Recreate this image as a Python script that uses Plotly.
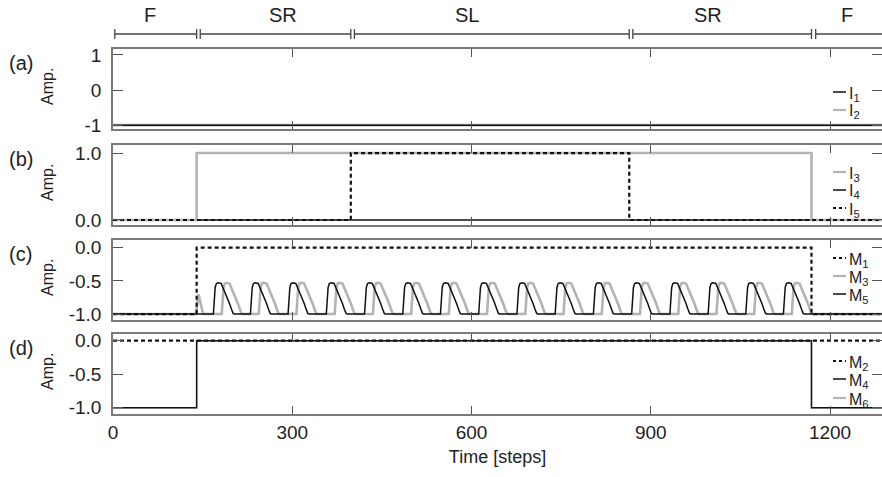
import plotly.graph_objects as go
from plotly.subplots import make_subplots

# ---------------- data ----------------
t_end = 1287
t_span = [0, t_end]

# phase bar on top
phase_labels = ["F", "SR", "SL", "SR", "F"]
phase_starts = [3, 146, 404, 870, 1176]
phase_ends = [140, 398, 864, 1169, 1320]
phase_label_t = [62, 285, 592, 996, 1228]

# (a)
I1_y = [-1, -1]
I2_y = [-1, -1]
# (b)
I3_t = [0, 140, 140, 1169, 1169, t_end]
I3_y = [0, 0, 1, 1, 0, 0]
I4_y = [0, 0]
I5_t = [0, 398, 398, 864, 864, t_end]
I5_y = [0, 0, 1, 1, 0, 0]
# (c)
M1_t = [0, 140, 140, 1169, 1169, t_end]
M1_y = [-1, -1, 0, 0, -1, -1]
M5_onsets = [168, 230, 293, 357, 421, 485, 548, 612, 676, 740, 804, 868, 932, 996, 1059, 1122]
M3_onsets = [182, 244, 307, 371, 435, 499, 562, 626, 690, 754, 818, 882, 946, 1010, 1073, 1136]
pulse_dt = [0, 1.5, 3, 5, 8, 13, 15, 18, 21, 24, 27, 30, 33, 35]
pulse_amp = [-1.0, -0.8, -0.6, -0.54, -0.53, -0.54, -0.58, -0.65, -0.70, -0.76, -0.84, -0.92, -0.99, -1.0]
M3_bump_t = [139, 143, 151]
M3_bump_y = [-1.0, -0.7, -1.0]
# (d)
M2_y = [0, 0]
M4_t = [0, 140, 140, 1169, 1169, t_end]
M4_y = [-1, -1, 0, 0, -1, -1]
M6_t = [0, 140, 140, 1169, 1169, t_end]
M6_y = [-1, -1, 0, 0, -1, -1]

x_tickvals = [0, 300, 600, 900, 1200]
x_ticktext = ["0", "300", "600", "900", "1200"]
ya_vals = [1, 0, -1]
ya_text = ["1", "0", "-1"]
yb_vals = [1, 0]
yb_text = ["1.0", "0.0"]
yc_vals = [0, -0.5, -1]
yc_text = ["0.0", "-0.5", "-1.0"]

legend_names = [["I<sub>1</sub>", "I<sub>2</sub>"],
                ["I<sub>3</sub>", "I<sub>4</sub>", "I<sub>5</sub>"],
                ["M<sub>1</sub>", "M<sub>3</sub>", "M<sub>5</sub>"],
                ["M<sub>2</sub>", "M<sub>4</sub>", "M<sub>6</sub>"]]


def pulse_train(onsets, pre_t=None, pre_y=None):
    xs, ys = [0], [-1.0]
    if pre_t:
        xs += pre_t
        ys += pre_y
    for o in onsets:
        xs += [o + d for d in pulse_dt]
        ys += pulse_amp
    xs.append(t_end)
    ys.append(-1.0)
    return xs, ys


M5_t, M5_y = pulse_train(M5_onsets)
M3_t, M3_y = pulse_train(M3_onsets, M3_bump_t, M3_bump_y)

# ---------------- styling ----------------
FONT = "Liberation Sans, Arial, Helvetica, sans-serif"
BLACK = "#111111"
GRAY = "#b3b3b3"
FRAME = "#7a7a7a"
TXT = "#222222"
DASH = "4px,3px"
STY_BLACK = dict(color=BLACK, width=1.5, dash=None)
STY_GRAY = dict(color=GRAY, width=2.6, dash=None)
STY_DASH = dict(color=BLACK, width=2.2, dash=DASH)

fig = make_subplots(rows=4, cols=1, vertical_spacing=0.02)

def add(row, x, y, name, sty):
    fig.add_trace(go.Scatter(x=x, y=y, mode="lines", name=name, line=sty,
                             showlegend=False, hoverinfo="skip"), row=row, col=1)

# (a)
add(1, t_span, I2_y, "I2", STY_GRAY)
add(1, t_span, I1_y, "I1", STY_BLACK)
# (b)
add(2, t_span, I4_y, "I4", STY_BLACK)
add(2, I3_t, I3_y, "I3", STY_GRAY)
add(2, I5_t, I5_y, "I5", STY_DASH)
# (c)
add(3, M3_t, M3_y, "M3", STY_GRAY)
add(3, M5_t, M5_y, "M5", STY_BLACK)
add(3, M1_t, M1_y, "M1", STY_DASH)
# (d)
add(4, M6_t, M6_y, "M6", dict(color=GRAY, width=1.4))
add(4, M4_t, M4_y, "M4", STY_BLACK)
add(4, t_span, M2_y, "M2", STY_DASH)

legend_styles = [[STY_BLACK, STY_GRAY],
                 [STY_GRAY, STY_BLACK, STY_DASH],
                 [STY_DASH, STY_GRAY, STY_BLACK],
                 [STY_DASH, STY_BLACK, STY_GRAY]]

W, H = 882, 477
mt, mb, ml, mr = 49, 63, 113, 0
ph = H - mt - mb
pw = W - ml - mr

def py(px):
    return (H - mb - px) / ph

def pxx(px):
    return (px - ml) / pw

panels = [(49, 129), (145, 225), (240, 320), (334, 414)]
yranges = [[-1.11, 1.17], [-0.075, 1.12], [-1.09, 0.116], [-1.094, 0.1]]
yticks = [(ya_vals, ya_text), (yb_vals, yb_text), (yc_vals, yc_text), (yc_vals, yc_text)]

for i in range(4):
    n = "" if i == 0 else str(i + 1)
    fig.layout["yaxis" + n].update(
        domain=[py(panels[i][1]), py(panels[i][0])], range=yranges[i],
        tickvals=yticks[i][0], ticktext=yticks[i][1],
        ticks="inside", ticklen=10, tickwidth=1.2, tickcolor="#555", mirror="ticks",
        showline=True, linecolor=FRAME, linewidth=1.6, showgrid=False, zeroline=False,
        tickfont=dict(family=FONT, size=19, color=TXT), ticklabelstandoff=6,
        automargin=False, fixedrange=True)
    fig.layout["xaxis" + n].update(
        range=[0, t_end], tickvals=x_tickvals, ticktext=x_ticktext,
        ticks="inside", ticklen=8, tickwidth=1.2, tickcolor="#555", mirror="ticks",
        showline=True, linecolor=FRAME, linewidth=1.6, showgrid=False, zeroline=False,
        showticklabels=(i == 3), tickfont=dict(family=FONT, size=19, color=TXT),
        matches=None if i == 0 else "x", automargin=False, fixedrange=True)

fig.layout.xaxis4.title = dict(text="Time [steps]", font=dict(family=FONT, size=18, color=TXT), standoff=9)

shapes = []
annotations = []

# phase bar
bar_y, tick_hi, tick_lo = py(34), py(29), py(39)
for s, e in zip(phase_starts, phase_ends):
    ln = dict(color="#444", width=1.3)
    shapes.append(dict(type="line", xref="x", yref="paper", x0=s, x1=e, y0=bar_y, y1=bar_y, line=ln))
    shapes.append(dict(type="line", xref="x", yref="paper", x0=s, x1=s, y0=tick_lo, y1=tick_hi, line=ln))
    shapes.append(dict(type="line", xref="x", yref="paper", x0=e, x1=e, y0=tick_lo, y1=tick_hi, line=ln))
for lab, tx in zip(phase_labels, phase_label_t):
    annotations.append(dict(text=lab, x=tx, y=py(15), xref="x", yref="paper",
                            xanchor="center", yanchor="middle",
                            showarrow=False, font=dict(family=FONT, size=20, color=TXT)))

# panel letters and "Amp." labels
panel_letters = ["(a)", "(b)", "(c)", "(d)"]
for i, lt in enumerate(panel_letters):
    top = panels[i][0]
    annotations.append(dict(text=lt, x=pxx(7), y=py(top + 14), xref="paper", yref="paper",
                            xanchor="left", yanchor="middle", showarrow=False,
                            font=dict(family=FONT, size=20, color=TXT)))
    annotations.append(dict(text="Amp.", textangle=-90, x=pxx(47), y=py(top + 38),
                            xref="paper", yref="paper", xanchor="center", yanchor="middle",
                            showarrow=False, font=dict(family=FONT, size=16, color=TXT)))

# per-panel legends (short line sample + label)
legend_rows_px = [[92, 110], [172, 190, 208], [258, 276, 294], [361, 379, 398]]
for i in range(4):
    for name, sty, ypx in zip(legend_names[i], legend_styles[i], legend_rows_px[i]):
        dash = "3px,3px" if sty.get("dash") else None
        shapes.append(dict(type="line", xref="paper", yref="paper", x0=pxx(833), x1=pxx(846),
                           y0=py(ypx), y1=py(ypx),
                           line=dict(color=sty["color"], width=min(sty["width"], 2.2), dash=dash)))
        annotations.append(dict(text=name, x=pxx(847), y=py(ypx + 2), xref="paper", yref="paper",
                                xanchor="left", yanchor="middle", showarrow=False,
                                font=dict(family=FONT, size=16, color=TXT)))

fig.update_layout(shapes=shapes, annotations=annotations)
fig.update_layout(width=W, height=H, margin=dict(l=ml, r=mr, t=mt, b=mb, autoexpand=False),
                  plot_bgcolor="white", paper_bgcolor="white", showlegend=False,
                  font=dict(family=FONT, color=TXT))

fig.write_html("out.html", config={"displayModeBar": False},
               post_script="document.body.style.margin='0px';")
